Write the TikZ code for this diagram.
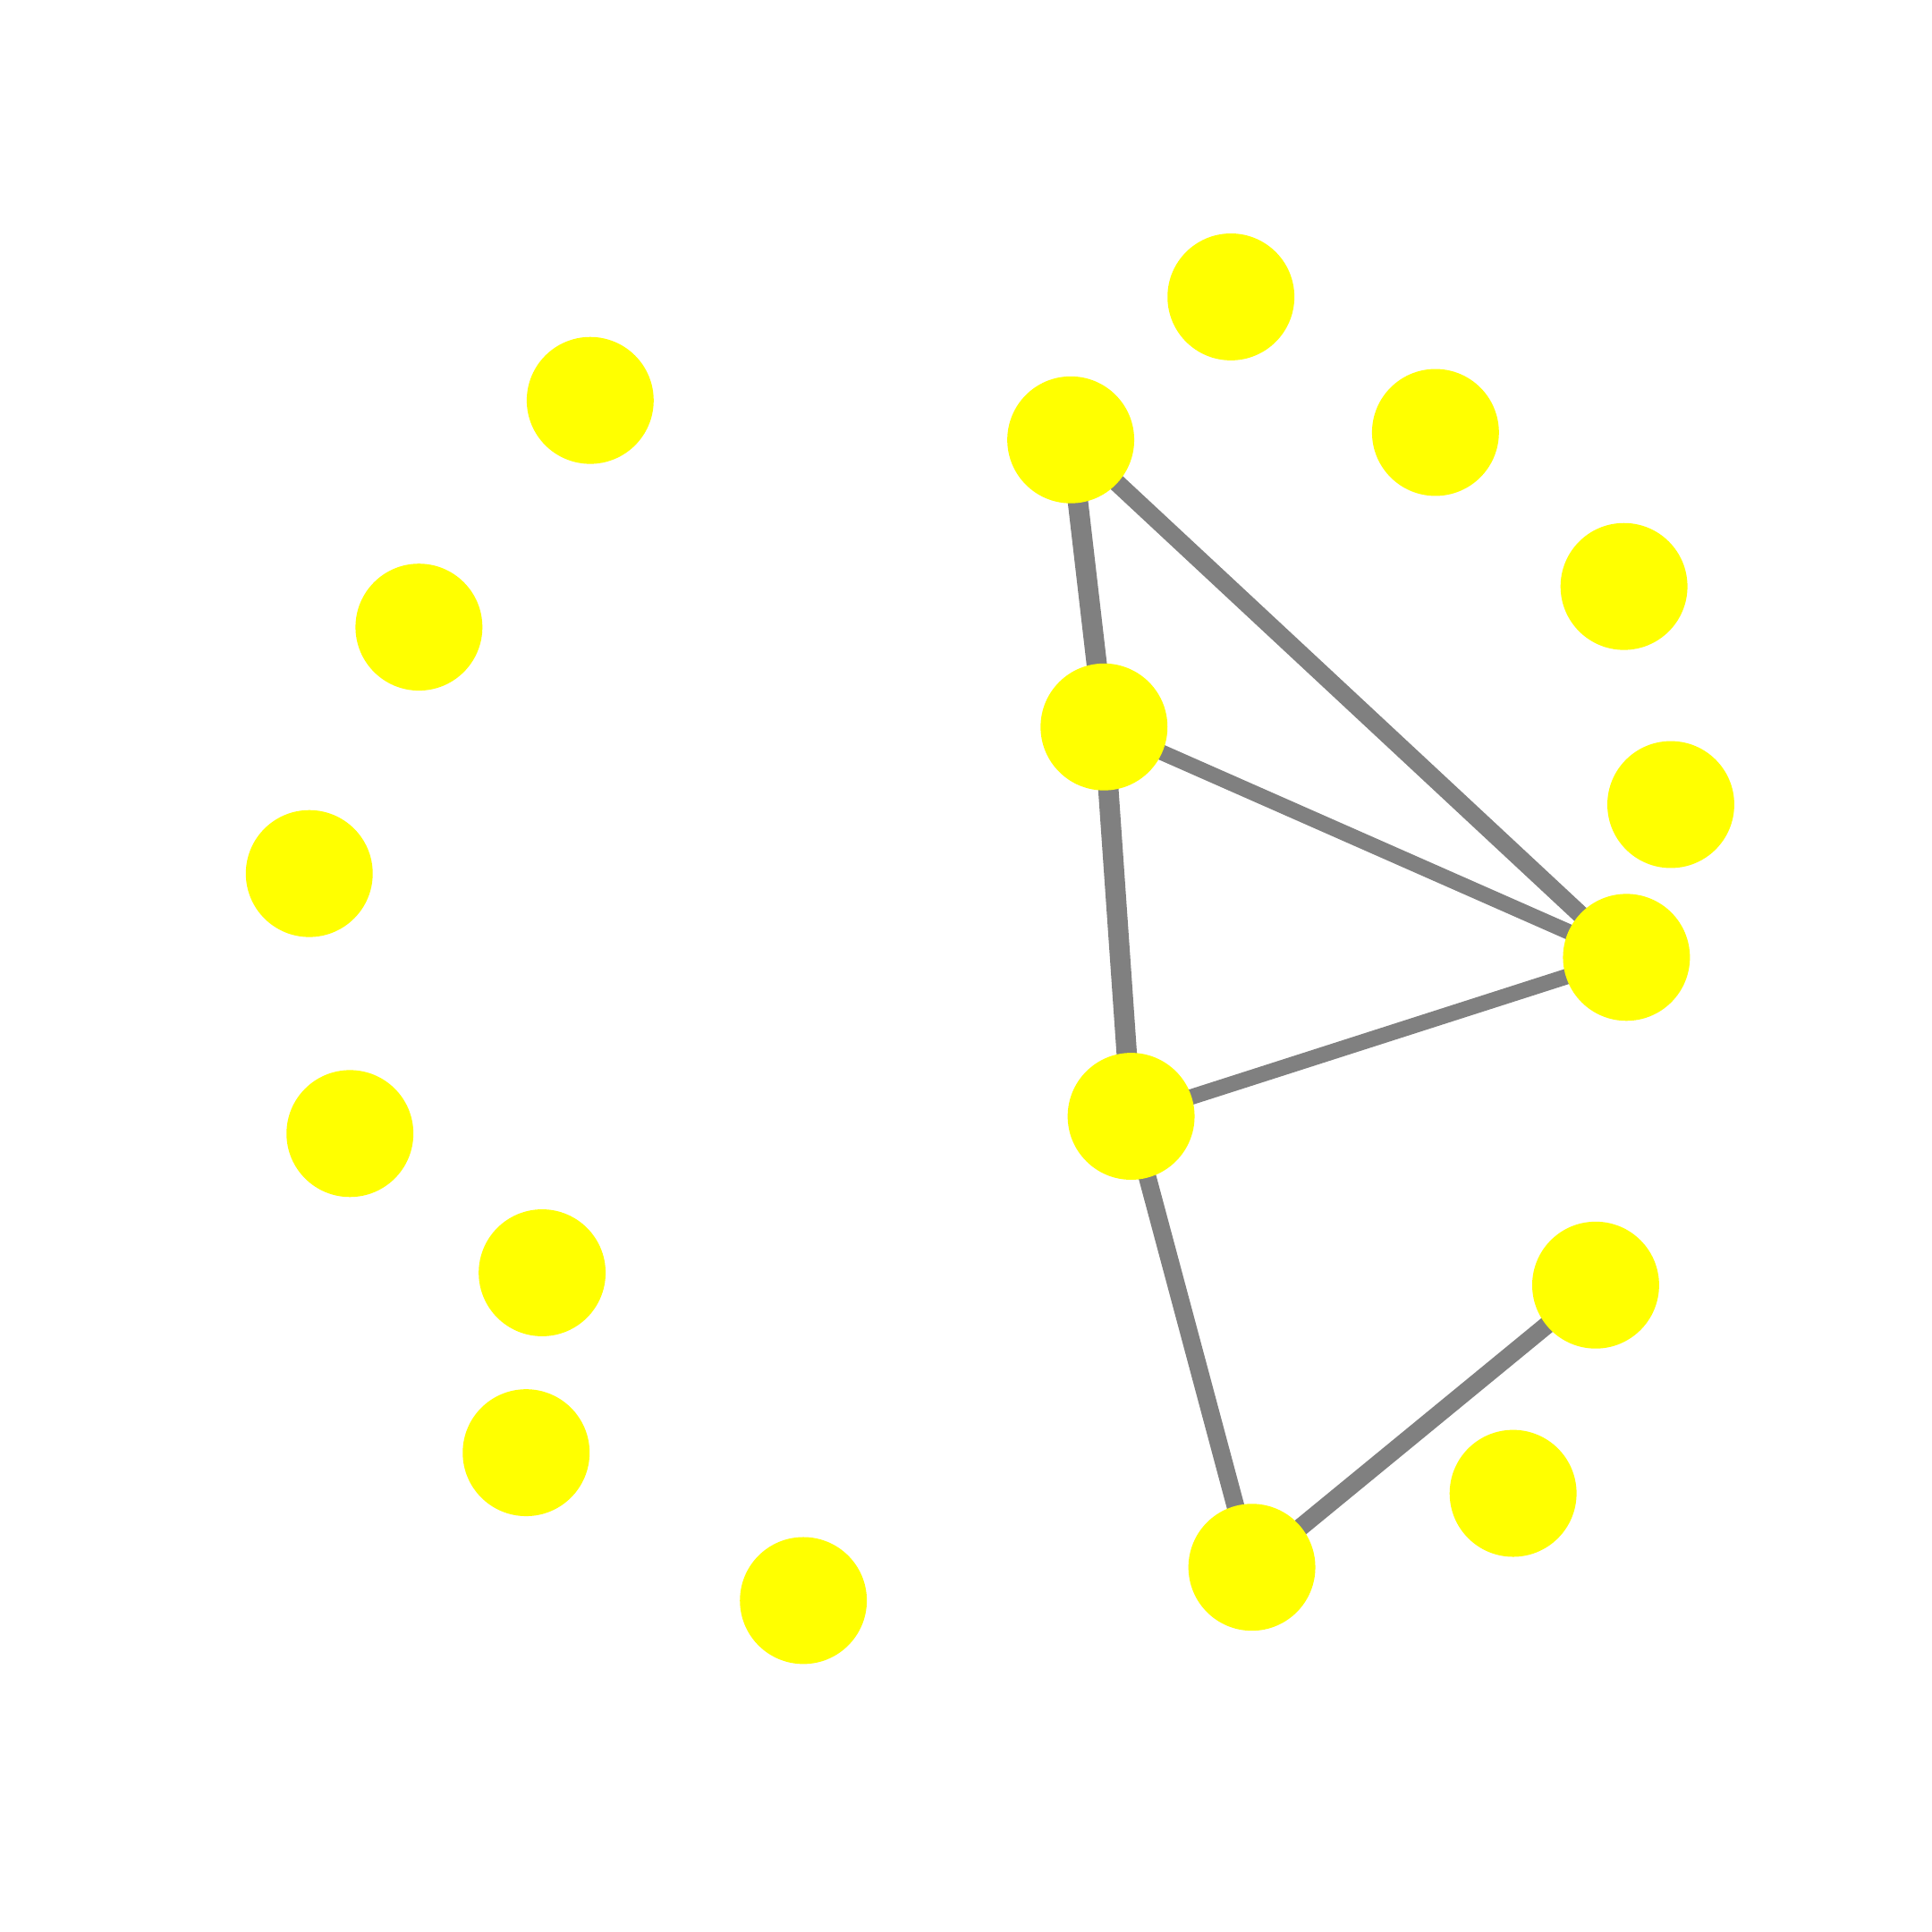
\documentclass[tikz,border=0pt]{standalone}
\usepackage{tikz}
\usetikzlibrary{backgrounds}
\definecolor{edgegray}{RGB}{128,128,128}
\definecolor{vertexyellow}{RGB}{255,255,0}
\tikzset{
  vertex/.style={circle,fill=vertexyellow,inner sep=0pt,minimum size=1.03cm},
  link/.style={edgegray,line width=4.1pt},
  heavylink/.style={edgegray,line width=4.7pt},
  lightlink/.style={edgegray,line width=3.6pt}
}

\begin{document}
\begin{tikzpicture}
  \useasboundingbox (0,0) rectangle (15.68,15.68);
  % vertices
  \node[vertex] (n1)  at (9.99,13.27) {};
  \node[vertex] (n2)  at (8.69,12.11) {};
  \node[vertex] (n3)  at (11.65,12.17) {};
  \node[vertex] (n4)  at (4.79,12.43) {};
  \node[vertex] (n5)  at (3.40,10.59) {};
  \node[vertex] (n6)  at (13.18,10.92) {};
  \node[vertex] (n7)  at (8.96,9.78) {};
  \node[vertex] (n8)  at (13.56,9.15) {};
  \node[vertex] (n9)  at (2.51,8.59) {};
  \node[vertex] (n10) at (13.20,7.91) {};
  \node[vertex] (n11) at (9.18,6.62) {};
  \node[vertex] (n12) at (2.84,6.48) {};
  \node[vertex] (n13) at (4.40,5.35) {};
  \node[vertex] (n14) at (12.95,5.25) {};
  \node[vertex] (n15) at (4.27,3.89) {};
  \node[vertex] (n16) at (12.28,3.56) {};
  \node[vertex] (n17) at (6.52,2.69) {};
  \node[vertex] (n18) at (10.16,2.96) {};
  % edges, behind the vertices
  \begin{scope}[on background layer]
    \draw[heavylink] (n2.center) -- (n7.center);
    \draw[heavylink] (n7.center) -- (n11.center);
    \draw[link] (n2.center) -- (n10.center);
    \draw[lightlink] (n7.center) -- (n10.center);
    \draw[lightlink] (n10.center) -- (n11.center);
    \draw[link] (n11.center) -- (n18.center);
    \draw[link] (n18.center) -- (n14.center);
  \end{scope}
\end{tikzpicture}
\end{document}
